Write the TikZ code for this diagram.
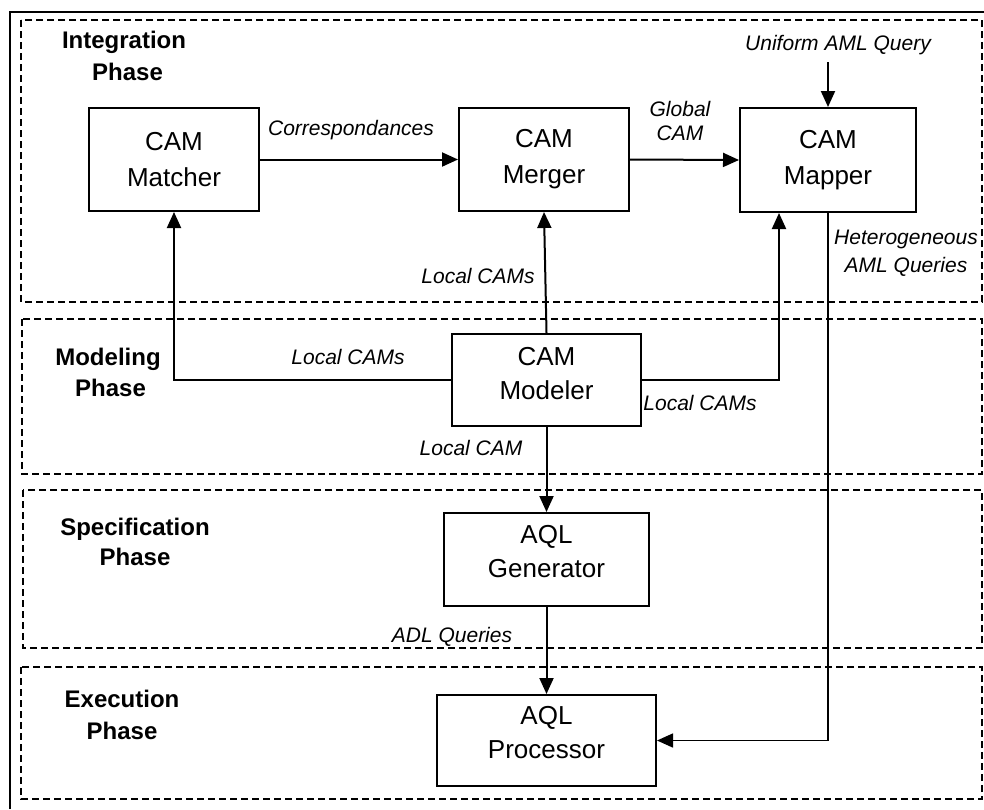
\documentclass[tikz,border=0pt]{standalone}
\usepackage{fontspec}
\setmainfont{Liberation Sans}
\usetikzlibrary{arrows.meta}
\tikzset{
  procbox/.style={draw, line width=2pt, fill=white, align=center, inner sep=0pt,
    font=\fontsize{26}{36}\selectfont},
  lowbox/.style={procbox, font=\fontsize{26}{34}\selectfont},
  phasebox/.style={draw, dashed, line width=1.4pt, dash pattern=on 7pt off 4pt},
  phaselabel/.style={align=center, inner sep=0pt, font=\fontsize{24}{32}\bfseries\selectfont},
  flowlabel/.style={align=center, inner sep=0pt, font=\fontsize{21}{26}\itshape\selectfont},
  flow/.style={line width=2pt, -{Triangle[length=16pt,width=14pt]}}
}
\begin{document}
\begin{tikzpicture}[x=1pt,y=-1pt]
\useasboundingbox (0,0) rectangle (984,809);
% outer frame
\draw[line width=1.6pt] (10,809) -- (10,12) -- (984,12);
% phase areas
\draw[phasebox] (21,20) rectangle (982,302);
\draw[phasebox] (22,319) rectangle (982,474);
\draw[phasebox] (23,490) rectangle (982,648);
\draw[phasebox] (21,667) rectangle (982,799);
% phase labels
\node[phaselabel] (lint) at (124,56) {Integration\\\hspace*{7pt}Phase};
\node[phaselabel, font=\fontsize{24}{31}\bfseries\selectfont] (lmod) at (108,372) {Modeling\\\hspace*{5pt}Phase};
\node[phaselabel, font=\fontsize{24}{30}\bfseries\selectfont] (lspec) at (135,542) {Specification\\Phase};
\node[phaselabel] (lexe) at (122,715) {Execution\\Phase};
% boxes
\node[procbox, minimum width=170pt, minimum height=103pt] (matcher) at (174,159.5) {CAM\\Matcher};
\node[procbox, minimum width=170pt, minimum height=103pt] (merger) at (544,159.5) {CAM\\Merger};
\node[procbox, minimum width=176pt, minimum height=104pt] (mapper) at (828,160) {CAM\\Mapper};
\node[lowbox, minimum width=189pt, minimum height=92pt] (modeler) at (546.5,380) {CAM\\Modeler\rule[-14pt]{0pt}{0pt}};
\node[lowbox, minimum width=205pt, minimum height=93pt] (generator) at (546.5,559.5) {AQL\\Generator\rule[-16pt]{0pt}{0pt}};
\node[lowbox, minimum width=219pt, minimum height=91pt] (processor) at (546.5,740.5) {AQL\\Processor\rule[-16pt]{0pt}{0pt}};
% input coordinate
\coordinate (uq) at (828,62);
% connectors
\draw[flow] (matcher.east) -- (merger.west);
\draw[flow] (merger.east) -- (mapper.west);
\draw[flow] (uq) -- (mapper.north);
\draw[flow] (modeler.north) -- (merger.south);
\draw[flow] (modeler.west) -| (matcher.south);
\draw[flow] (modeler.east) -| ([xshift=-49pt]mapper.south);
\draw[flow, line width=1.6pt] (mapper.south) |- (processor.east);
\draw[flow] (modeler.south) -- (generator.north);
\draw[flow] (generator.south) -- (processor.north);
% labels
\node[flowlabel] (lcorr) at (351,130) {Correspondances};
\node[flowlabel, font=\fontsize{21}{24}\itshape\selectfont] (lglob) at (680,121) {Global\\CAM};
\node[flowlabel] (luni) at (838,45) {Uniform AML Query};
\node[flowlabel, font=\fontsize{21}{28}\itshape\selectfont] (lhet) at (906,253) {Heterogeneous\\AML Queries};
\node[flowlabel] (llc1) at (478,276) {Local CAMs};
\node[flowlabel] (llc2) at (348,357) {Local CAMs};
\node[flowlabel] (llc3) at (700,403) {Local CAMs};
\node[flowlabel] (llc4) at (471,448) {Local CAM};
\node[flowlabel] (ladl) at (452,637) {ADL Queries};
\end{tikzpicture}
\end{document}
